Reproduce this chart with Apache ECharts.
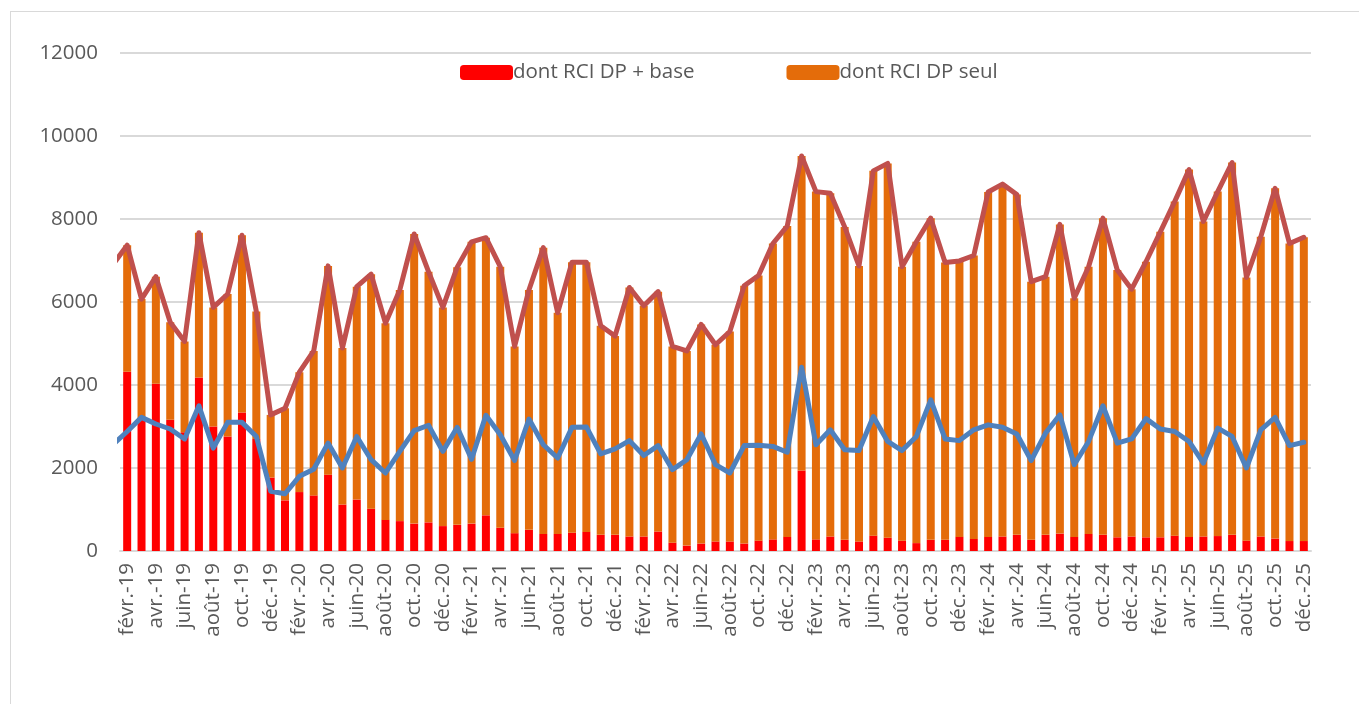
<!DOCTYPE html>
<html>
<head>
<meta charset="utf-8">
<script src="https://cdn.jsdelivr.net/npm/echarts@6/dist/echarts.min.js"></script>
<style>
  html, body { margin: 0; padding: 0; background: #fff; }
  #frame { position: absolute; left: 10px; top: 11px; width: 1400px; height: 760px; border: 1px solid #d9d9d9; }
  #chart { position: absolute; left: 0; top: 0; width: 1359px; height: 704px; }
</style>
</head>
<body>
<div id="frame"></div>
<div id="chart"></div>
<script>
// mois affichés (févr.-19 -> déc.-25)
const monthNames = ['janv.', 'févr.', 'mars', 'avr.', 'mai', 'juin', 'juil.', 'août', 'sept.', 'oct.', 'nov.', 'déc.'];
const years = ['19', '20', '21', '22', '23', '24', '25'];

// dont RCI DP + base (rouge)
const dpBase = [
  4320, 3160, 4030, 3160, 2860, 4180, 3000, 2760, 3340, 2700, 1770,
  1220, 1420, 1340, 1840, 1120, 1240, 1020, 750, 720, 660, 690, 600,
  630, 660, 860, 560, 430, 510, 410, 410, 440, 460, 390, 390,
  350, 350, 470, 200, 130, 180, 230, 230, 180, 250, 280, 340,
  1940, 280, 350, 270, 230, 370, 320, 250, 190, 270, 270, 340,
  290, 340, 350, 390, 270, 390, 420, 340, 410, 390, 330, 350,
  330, 330, 370, 340, 350, 360, 390, 250, 350, 300, 240, 240
];

// dont RCI DP seul (orange)
const dpSeul = [
  3050, 2910, 2580, 2350, 2190, 3490, 2870, 3430, 4270, 3070, 1510,
  2220, 2890, 3480, 5030, 3770, 5130, 5650, 4740, 5570, 6980, 6040, 5270,
  6210, 6790, 6690, 6290, 4500, 5780, 6900, 5330, 6520, 6500, 5040, 4790,
  6000, 5560, 5780, 4730, 4690, 5280, 4740, 5060, 6210, 6390, 7130, 7490,
  7580, 8380, 8270, 7540, 6640, 8790, 9020, 6600, 7260, 7750, 6680, 6650,
  6830, 8310, 8490, 8200, 6220, 6220, 7450, 5750, 6440, 7630, 6440, 5960,
  6640, 7360, 8050, 8850, 7590, 8300, 8970, 6340, 7220, 8440, 7170, 7320
];

// courbe du total (janv.-19 -> déc.-25, le premier point sort du cadre)
const totalLine = [
  6900,
  7370, 6070, 6610, 5510, 5050, 7670, 5870, 6190, 7610, 5770, 3280,
  3440, 4310, 4820, 6870, 4890, 6370, 6670, 5490, 6290, 7640, 6730, 5870,
  6840, 7450, 7550, 6850, 4930, 6290, 7310, 5740, 6960, 6960, 5430, 5180,
  6350, 5910, 6250, 4930, 4820, 5460, 4970, 5290, 6390, 6640, 7410, 7830,
  9520, 8660, 8620, 7810, 6870, 9160, 9340, 6850, 7450, 8020, 6950, 6990,
  7120, 8650, 8840, 8590, 6490, 6610, 7870, 6090, 6850, 8020, 6770, 6310,
  6970, 7690, 8420, 9190, 7940, 8660, 9360, 6590, 7570, 8740, 7410, 7560
];

// courbe bleue (janv.-19 -> déc.-25)
const blueLine = [
  2560,
  2880, 3220, 3060, 2940, 2700, 3500, 2480, 3100, 3100, 2760, 1440,
  1380, 1800, 1970, 2600, 2000, 2760, 2200, 1880, 2400, 2900, 3030, 2400,
  2980, 2210, 3270, 2800, 2180, 3180, 2560, 2240, 2980, 2990, 2340, 2460,
  2660, 2300, 2540, 1960, 2200, 2820, 2080, 1880, 2540, 2550, 2520, 2380,
  4430, 2560, 2920, 2440, 2420, 3240, 2640, 2420, 2760, 3640, 2700, 2660,
  2920, 3040, 2980, 2820, 2180, 2840, 3280, 2080, 2640, 3500, 2600, 2700,
  3190, 2940, 2880, 2640, 2120, 2960, 2760, 2000, 2920, 3220, 2540, 2620
];

const categories = [];
years.forEach(y => monthNames.forEach(m => categories.push(m + '-' + y)));
categories.shift(); // pas de janv.-19 dans les barres

// les courbes sont posées sur un axe x numérique caché (index -1 = janv.-19)
const toPoints = arr => arr.map((v, k) => [k - 1, v]);

const textColor = '#595959';
const font = 'Open Sans';

let myChart = echarts.init(document.getElementById('chart'));
myChart.setOption({
  animation: false,
  textStyle: { fontFamily: font },
  legend: {
    top: 57,
    left: 455,
    itemWidth: 53,
    itemHeight: 15,
    itemGap: 92,
    data: ['dont RCI DP + base', 'dont RCI DP seul'],
    textStyle: { color: textColor, fontSize: 20.5, fontFamily: font, padding: [0, 0, 0, -5] }
  },
  grid: { left: 120, right: 48, top: 53, bottom: 153 },
  xAxis: [
    {
      type: 'category',
      data: categories,
      axisLine: { lineStyle: { color: '#d9d9d9', width: 2 } },
      axisTick: { interval: 1, length: 7, lineStyle: { color: '#d9d9d9', width: 2 } },
      axisLabel: { interval: 1, rotate: 90, color: textColor, fontSize: 20.5, margin: 12 }
    },
    {
      type: 'value',
      min: -0.5,
      max: 82.5,
      show: false
    }
  ],
  yAxis: {
    type: 'value',
    min: 0,
    max: 12000,
    interval: 2000,
    axisLine: { show: false },
    axisTick: { show: false },
    axisLabel: { color: textColor, fontSize: 20.5, margin: 22, formatter: v => String(v) },
    splitLine: { lineStyle: { color: '#d9d9d9', width: 2 } }
  },
  series: [
    {
      name: 'dont RCI DP + base',
      type: 'bar',
      stack: 'rci',
      barWidth: 8,
      itemStyle: { color: '#ff0000' },
      data: dpBase
    },
    {
      name: 'dont RCI DP seul',
      type: 'bar',
      stack: 'rci',
      barWidth: 8,
      itemStyle: { color: '#e46c0a' },
      data: dpSeul
    },
    {
      name: 'total',
      type: 'line',
      xAxisIndex: 1,
      symbol: 'none',
      clip: true,
      lineStyle: { color: '#c0504d', width: 5, cap: 'round', join: 'round' },
      data: toPoints(totalLine)
    },
    {
      name: 'bleu',
      type: 'line',
      xAxisIndex: 1,
      symbol: 'none',
      clip: true,
      lineStyle: { color: '#4f81bd', width: 5, cap: 'round', join: 'round' },
      data: toPoints(blueLine)
    }
  ]
});
</script>
</body>
</html>
